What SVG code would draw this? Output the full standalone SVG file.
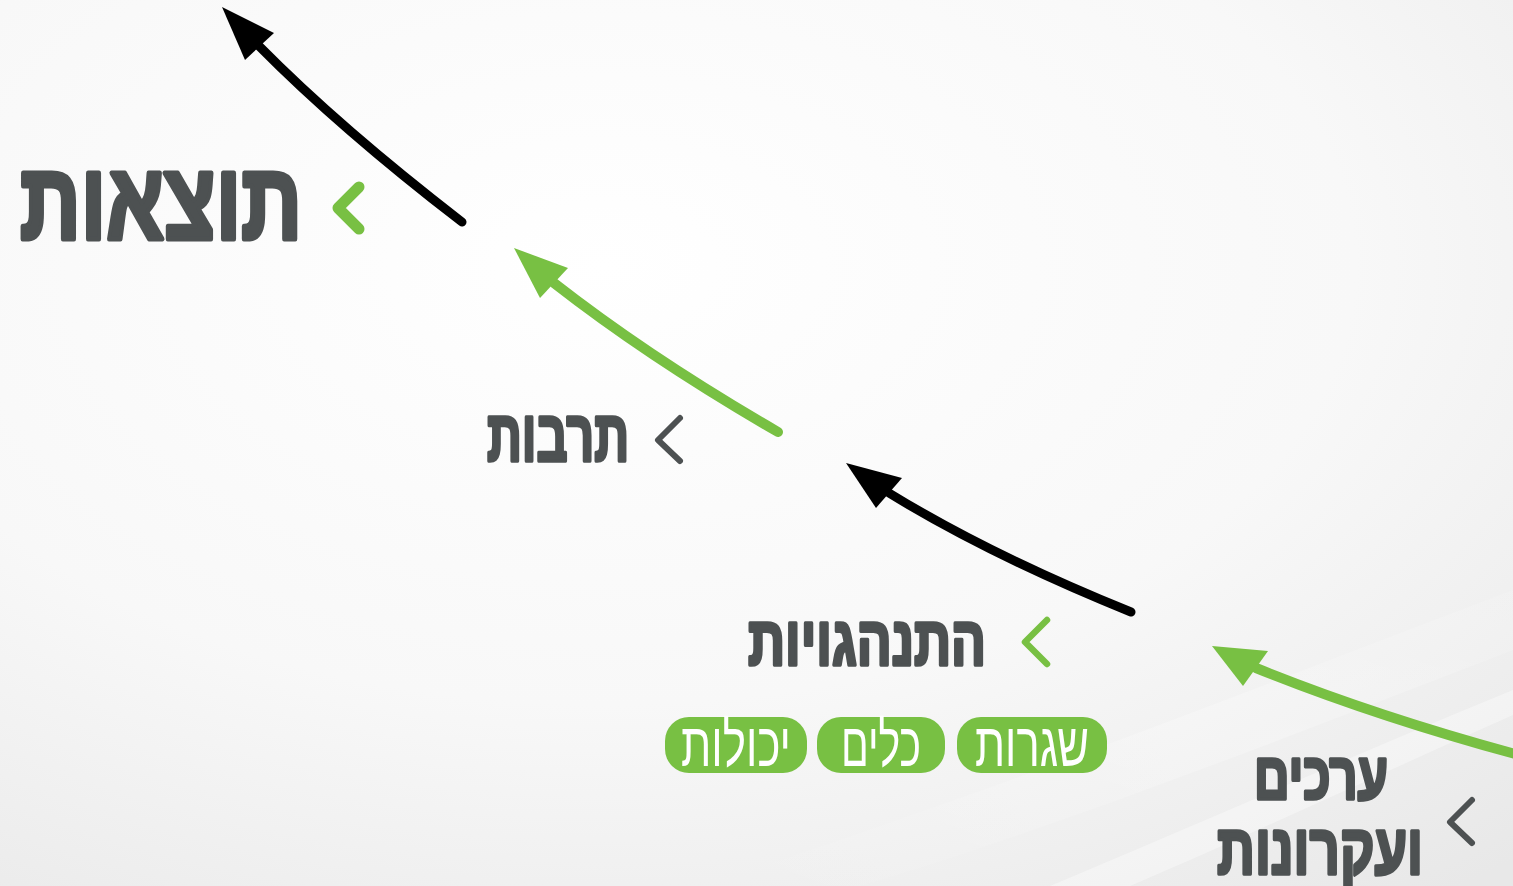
<svg xmlns="http://www.w3.org/2000/svg" width="1513" height="886" viewBox="0 0 1513 886">
  <defs>
    <radialGradient id="bg" cx="0.4" cy="0.3" r="0.9">
      <stop offset="0" stop-color="#ffffff"/>
      <stop offset="0.55" stop-color="#f8f8f8"/>
      <stop offset="1" stop-color="#e8e8e8"/>
    </radialGradient>
    <linearGradient id="sw" x1="0" y1="1" x2="1" y2="0">
      <stop offset="0" stop-color="#ffffff" stop-opacity="0"/>
      <stop offset="0.6" stop-color="#ffffff" stop-opacity="0.5"/>
      <stop offset="1" stop-color="#ffffff" stop-opacity="0.2"/>
    </linearGradient>
    <style>
      .lbl { font-family: "Liberation Sans", "DejaVu Sans", sans-serif; font-weight: bold; fill: #4d5152; stroke: #4d5152; stroke-linejoin: round; }
      .pilltxt { font-family: "Liberation Sans", "DejaVu Sans", sans-serif; fill: #ffffff; }
      .pill { fill: #78c043; }
      .chev { fill: none; stroke-linecap: round; stroke-linejoin: round; }
      .g { stroke: #78c043; }
      .d { stroke: #4d5152; }
      .conn { fill: none; stroke-linecap: round; }
      .blk { stroke: #000000; stroke-width: 9; }
      .grn { stroke: #78c043; stroke-width: 10; }
    </style>
  </defs>

  <rect width="1513" height="886" fill="url(#bg)"/>
  <path d="M 700 886 C 1000 790 1250 690 1513 590 L 1513 650 C 1280 740 1050 830 860 886 Z" fill="url(#sw)" opacity="0.5"/>
  <path d="M 1050 886 C 1230 810 1390 740 1513 690 L 1513 715 C 1400 765 1250 835 1130 886 Z" fill="#ffffff" opacity="0.35"/>

  <g id="connectors">
    <path class="conn blk" d="M 462 222 Q 340 128 259 46"/>
    <polygon points="222,7 274,33 245,60" fill="#000000"/>
    <path class="conn grn" d="M 778 432 Q 650 358 554 283"/>
    <polygon points="514,248 568,268 540,298" fill="#78c043"/>
    <path class="conn blk" d="M 1131 612 Q 990 555 889 493"/>
    <polygon points="846,463 902,478 876,508" fill="#000000"/>
    <path class="conn grn" d="M 1530 758 Q 1380 718 1256 668"/>
    <polygon points="1212,646 1268,651 1243,686" fill="#78c043"/>
  </g>

  <g id="node-results">
    <text class="lbl" x="161" y="239" font-size="109" stroke-width="5" text-anchor="middle" textLength="282" lengthAdjust="spacingAndGlyphs">תוצאות</text>
    <polyline class="chev g" stroke-width="11" points="359,187 338,208 359,229"/>
  </g>

  <g id="node-culture">
    <text class="lbl" x="558" y="461" font-size="72" stroke-width="3.5" text-anchor="middle" textLength="142" lengthAdjust="spacingAndGlyphs">תרבות</text>
    <polyline class="chev d" stroke-width="6" points="680,418 658,440 680,461"/>
  </g>

  <g id="node-behaviors">
    <text class="lbl" x="867" y="665" font-size="69" stroke-width="3.5" text-anchor="middle" textLength="238" lengthAdjust="spacingAndGlyphs">התנהגויות</text>
    <polyline class="chev g" stroke-width="6.5" points="1047,620 1025,642 1047,664"/>
  </g>

  <g id="node-routines">
    <rect class="pill" x="957" y="717" width="150" height="56" rx="24"/>
    <text class="pilltxt" x="1032" y="766" font-size="62" text-anchor="middle" textLength="114" lengthAdjust="spacingAndGlyphs">שגרות</text>
  </g>
  <g id="node-tools">
    <rect class="pill" x="817" y="717" width="128" height="56" rx="24"/>
    <text class="pilltxt" x="881" y="766" font-size="62" text-anchor="middle" textLength="80" lengthAdjust="spacingAndGlyphs">כלים</text>
  </g>
  <g id="node-abilities">
    <rect class="pill" x="665" y="717" width="142" height="56" rx="24"/>
    <text class="pilltxt" x="736" y="766" font-size="62" text-anchor="middle" textLength="110" lengthAdjust="spacingAndGlyphs">יכולות</text>
  </g>

  <g id="node-values">
    <text class="lbl" x="1321" y="799" font-size="66" stroke-width="3.5" text-anchor="middle" textLength="134" lengthAdjust="spacingAndGlyphs">ערכים</text>
    <text class="lbl" x="1320" y="874" font-size="71" stroke-width="3.5" text-anchor="middle" textLength="206" lengthAdjust="spacingAndGlyphs">ועקרונות</text>
    <polyline class="chev d" stroke-width="6" points="1472,800 1450,822 1472,843"/>
  </g>
</svg>
